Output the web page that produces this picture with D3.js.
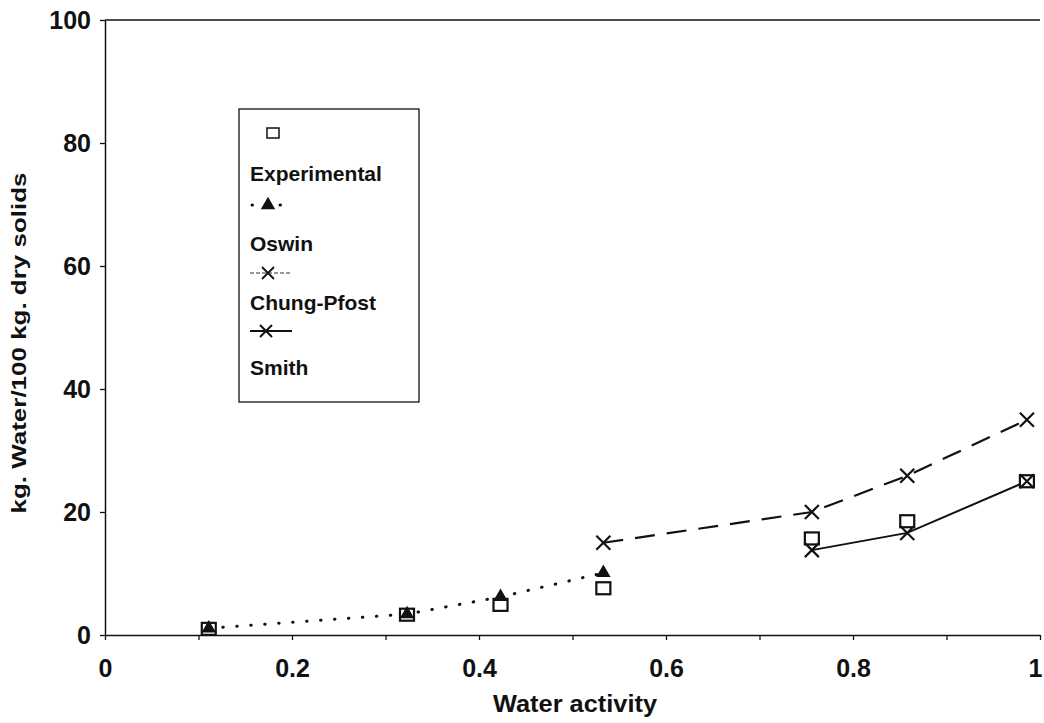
<!DOCTYPE html>
<html>
<head>
<meta charset="utf-8">
<script src="https://cdn.jsdelivr.net/npm/d3@7/dist/d3.min.js"></script>
<style>
  body { margin: 0; background: #fff; }
  text { font-family: "Liberation Sans", Arial, sans-serif; fill: #111; }
</style>
</head>
<body>
<div id="chart"></div>
<script>
// water activity of each measured sample
const expX = [0.111, 0.323, 0.423, 0.533, 0.756, 0.858, 0.986];
const expY = [1.0, 3.3, 4.9, 7.6, 15.7, 18.5, 25.0];

// model fits
const oswinX = [0.111, 0.323, 0.423, 0.533];
const oswinY = [1.1, 3.4, 6.2, 10.1];
const chungX = [0.533, 0.756, 0.858, 0.986];
const chungY = [15.0, 20.0, 25.9, 35.0];
const smithX = [0.756, 0.858, 0.986];
const smithY = [13.8, 16.6, 25.0];

const xTicks = [0, 0.1, 0.2, 0.3, 0.4, 0.5, 0.6, 0.7, 0.8, 0.9, 1];
const xLabels = ['0', '', '0.2', '', '0.4', '', '0.6', '', '0.8', '', '1'];
const yTicks = [0, 20, 40, 60, 80, 100];
const legendNames = ['Experimental', 'Oswin', 'Chung-Pfost', 'Smith'];

const w = 1044, h = 723;

const x = d3.scaleLinear().domain([0, 1]).range([105, 1040]);
const y = d3.scaleLinear().domain([0, 100]).range([635, 20]);

const svg = d3.select('#chart').append('svg')
    .attr('width', w)
    .attr('height', h);

const pts = (xs, ys) => xs.map((v, i) => [v, ys[i]]);
const line = d3.line().x(d => x(d[0])).y(d => y(d[1]));

// top frame line
svg.append('line')
    .attr('x1', x(0)).attr('x2', x(1))
    .attr('y1', y(100)).attr('y2', y(100))
    .attr('stroke', '#111').attr('stroke-width', 1.5);

// axes
const xAxis = d3.axisBottom(x)
    .tickValues(xTicks)
    .tickFormat((d, i) => xLabels[i])
    .tickSize(5)
    .tickSizeOuter(0)
    .tickPadding(19);

const gx = svg.append('g')
    .attr('transform', 'translate(0,' + y(0) + ')')
    .call(xAxis);

const yAxis = d3.axisLeft(y)
    .tickValues(yTicks)
    .tickSize(5)
    .tickSizeOuter(0)
    .tickPadding(9);

const gy = svg.append('g')
    .attr('transform', 'translate(' + x(0) + ',0)')
    .call(yAxis);

[gx, gy].forEach(g => {
    g.select('.domain').attr('stroke', '#111').attr('stroke-width', 1.5);
    g.selectAll('.tick line').attr('stroke', '#111').attr('stroke-width', 1.3);
    g.selectAll('.tick text')
        .attr('font-size', 25)
        .attr('font-weight', 'bold')
        .style('font-family', '"Liberation Sans", Arial, sans-serif')
        .attr('fill', '#111');
});
// last label sits at the right edge, nudge it inside
gx.selectAll('.tick text').filter(d => d === 1).attr('dx', -5);

// axis titles
svg.append('text')
    .attr('x', 575)
    .attr('y', 712)
    .attr('text-anchor', 'middle')
    .attr('font-size', 24)
    .attr('font-weight', 'bold')
    .attr('textLength', 164)
    .attr('lengthAdjust', 'spacingAndGlyphs')
    .text('Water activity');

svg.append('text')
    .attr('transform', 'translate(26,343) rotate(-90)')
    .attr('text-anchor', 'middle')
    .attr('font-size', 20)
    .attr('font-weight', 'bold')
    .attr('textLength', 341)
    .attr('lengthAdjust', 'spacingAndGlyphs')
    .text('kg. Water/100 kg. dry solids');

// series lines
svg.append('path')
    .datum(pts(oswinX, oswinY))
    .attr('d', line)
    .attr('fill', 'none')
    .attr('stroke', '#111')
    .attr('stroke-width', 3)
    .attr('stroke-linecap', 'round')
    .attr('stroke-dasharray', '0.5,13.5');

svg.append('path')
    .datum(pts(chungX, chungY))
    .attr('d', line)
    .attr('fill', 'none')
    .attr('stroke', '#111')
    .attr('stroke-width', 2.2)
    .attr('stroke-dasharray', '20,12');

svg.append('path')
    .datum(pts(smithX, smithY))
    .attr('d', line)
    .attr('fill', 'none')
    .attr('stroke', '#111')
    .attr('stroke-width', 2);

// markers
const cross = s => `M${-s},${-s}L${s},${s}M${-s},${s}L${s},${-s}`;
const tri = d3.symbol().type(d3.symbolTriangle).size(90);

svg.selectAll('.exp')
    .data(pts(expX, expY))
    .enter()
    .append('rect')
    .attr('class', 'exp')
    .attr('x', d => x(d[0]) - 7)
    .attr('y', d => y(d[1]) - 6)
    .attr('width', 14)
    .attr('height', 12)
    .attr('fill', '#fff')
    .attr('stroke', '#111')
    .attr('stroke-width', 2.2);

svg.selectAll('.oswin')
    .data(pts(oswinX, oswinY))
    .enter()
    .append('path')
    .attr('class', 'oswin')
    .attr('d', tri)
    .attr('transform', d => 'translate(' + x(d[0]) + ',' + y(d[1]) + ')')
    .attr('fill', '#111');

svg.selectAll('.chung')
    .data(pts(chungX, chungY))
    .enter()
    .append('path')
    .attr('class', 'chung')
    .attr('d', cross(7))
    .attr('transform', d => 'translate(' + x(d[0]) + ',' + y(d[1]) + ')')
    .attr('stroke', '#111')
    .attr('stroke-width', 2.2);

svg.selectAll('.smith')
    .data(pts(smithX, smithY))
    .enter()
    .append('path')
    .attr('class', 'smith')
    .attr('d', cross(7))
    .attr('transform', d => 'translate(' + x(d[0]) + ',' + y(d[1]) + ')')
    .attr('stroke', '#111')
    .attr('stroke-width', 2.2);

// legend
const lg = svg.append('g');
lg.append('rect')
    .attr('x', 239).attr('y', 109)
    .attr('width', 180).attr('height', 293)
    .attr('fill', '#fff')
    .attr('stroke', '#111')
    .attr('stroke-width', 1.3);

const rowY = [133, 205, 273, 331];
const textY = [181, 251, 310, 375];

lg.append('rect')
    .attr('x', 267).attr('y', rowY[0] - 5)
    .attr('width', 12).attr('height', 10)
    .attr('fill', '#fff').attr('stroke', '#111').attr('stroke-width', 1.5);

lg.append('line')
    .attr('x1', 252).attr('x2', 282)
    .attr('y1', rowY[1]).attr('y2', rowY[1])
    .attr('stroke', '#111').attr('stroke-width', 3)
    .attr('stroke-linecap', 'round')
    .attr('stroke-dasharray', '0.5,13.5');
lg.append('path')
    .attr('d', tri)
    .attr('transform', 'translate(268,' + rowY[1] + ')')
    .attr('fill', '#111');

lg.append('line')
    .attr('x1', 250).attr('x2', 292)
    .attr('y1', rowY[2]).attr('y2', rowY[2])
    .attr('stroke', '#333').attr('stroke-width', 1.2)
    .attr('stroke-dasharray', '4,2');
lg.append('path')
    .attr('d', cross(6))
    .attr('transform', 'translate(268,' + rowY[2] + ')')
    .attr('stroke', '#111').attr('stroke-width', 1.8);

lg.append('line')
    .attr('x1', 250).attr('x2', 292)
    .attr('y1', rowY[3]).attr('y2', rowY[3])
    .attr('stroke', '#111').attr('stroke-width', 1.8);
lg.append('path')
    .attr('d', cross(6))
    .attr('transform', 'translate(266,' + rowY[3] + ')')
    .attr('stroke', '#111').attr('stroke-width', 2);

lg.selectAll('.lgtext')
    .data(legendNames)
    .enter()
    .append('text')
    .attr('class', 'lgtext')
    .attr('x', 250)
    .attr('y', (d, i) => textY[i])
    .attr('font-size', 21)
    .attr('font-weight', 'bold')
    .text(d => d);
</script>
</body>
</html>
